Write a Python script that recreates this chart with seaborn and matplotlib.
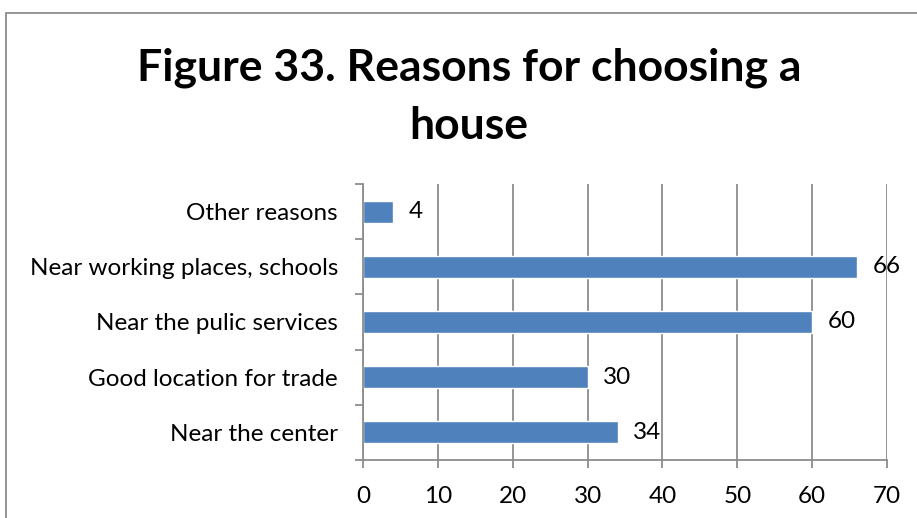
import matplotlib
matplotlib.use("Agg")
import matplotlib.pyplot as plt
import seaborn as sns
import pandas as pd
from matplotlib.patches import Rectangle
from matplotlib.ticker import FixedLocator

categories = [
    "Other reasons",
    "Near working places, schools",
    "Near the pulic services",
    "Good location for trade",
    "Near the center",
]
values = [4, 66, 60, 30, 34]
x_ticks = [0, 10, 20, 30, 40, 50, 60, 70]

sns.set_theme(style="white")
plt.rcParams["font.family"] = ["Lato", "DejaVu Sans"]

W, H = 917, 518
fig = plt.figure(figsize=(W / 100, H / 100), dpi=100)

# plot area in pixel terms
left, right, top, bottom = 363, 887, 184, 460
ax = fig.add_axes([left / W, 1 - bottom / H, (right - left) / W, (bottom - top) / H])

df = pd.DataFrame({"reason": categories, "count": values})
sns.barplot(data=df, x="count", y="reason", orient="h", color="#4F81BD",
            saturation=1, width=0.4, ax=ax)

ax.set_xlim(0, 70)
ax.set_ylim(4.5, -0.5)
ax.set_xticks(x_ticks)
ax.set_xlabel("")
ax.set_ylabel("")

grid_c = "#8C8C8C"
ax.xaxis.grid(True, color=grid_c, linewidth=1.3)
ax.set_axisbelow(True)
for s in ["top", "right"]:
    ax.spines[s].set_visible(False)
for s in ["left", "bottom"]:
    ax.spines[s].set_color(grid_c)
    ax.spines[s].set_linewidth(1.3)

lab_fs = 17.5
ax.tick_params(axis="x", which="major", direction="out", length=6, width=1.3,
               color=grid_c, pad=13, labelsize=lab_fs, labelcolor="black", bottom=True)
ax.tick_params(axis="y", which="major", length=0, pad=18, labelsize=lab_fs,
               labelcolor="black")
ax.yaxis.set_minor_locator(FixedLocator([-0.5, 0.5, 1.5, 2.5, 3.5, 4.5]))
ax.tick_params(axis="y", which="minor", direction="out", length=6, width=1.3,
               color=grid_c, left=True)

ax.bar_label(ax.containers[0], labels=[str(v) for v in values], padding=11,
             fontsize=lab_fs, color="black")

# title
fig.text(469 / W, 1 - 80 / H, "Figure 33. Reasons for choosing a", ha="center",
         va="baseline", fontsize=32, fontweight="bold", color="black")
fig.text(469 / W, 1 - 139 / H, "house", ha="center", va="baseline",
         fontsize=32, fontweight="bold", color="black")

# outer chart border
fig.patches.append(Rectangle((6 / W, -0.1), 1.2, 1 - 13 / H + 0.1,
                             transform=fig.transFigure, fill=False,
                             edgecolor="#8C8C8C", linewidth=1.3))

fig.savefig("out.png", dpi=100)
